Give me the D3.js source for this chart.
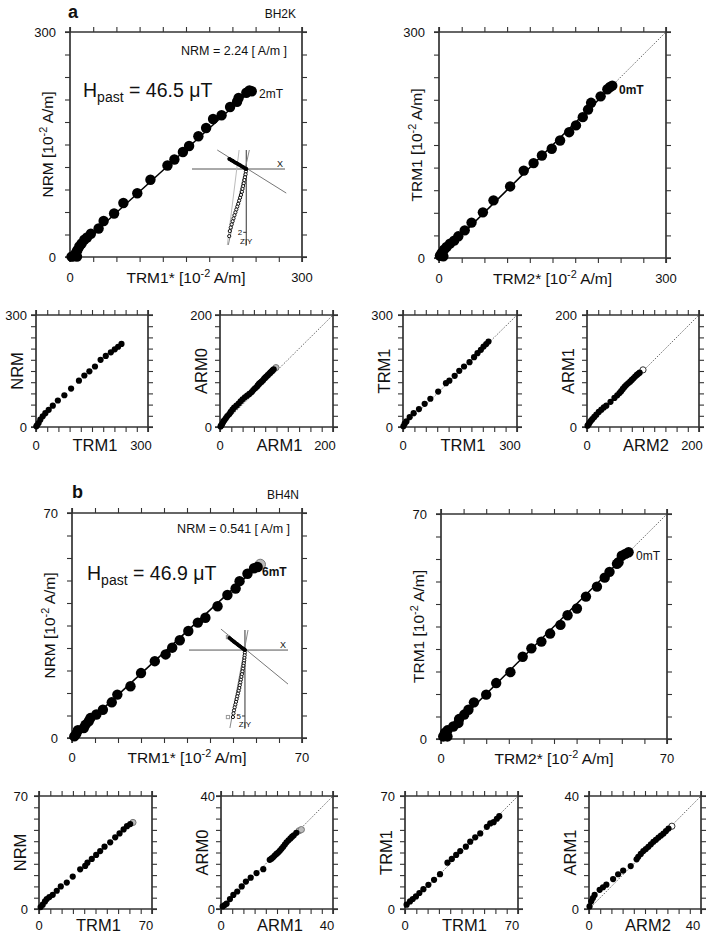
<!DOCTYPE html>
<html><head><meta charset="utf-8">
<script src="https://cdn.jsdelivr.net/npm/d3@7"></script>
<style>body{margin:0;background:#fff}svg{display:block}text{font-family:"Liberation Sans",Arial,sans-serif;fill:#111}</style>
</head><body><svg id="c" width="710" height="937"></svg>
<script>
// ---------- DATA ----------
// panel a, main left: NRM vs TRM1*
const aMainTRM1s = [2, 4, 9, 6.5, 8, 9.5, 12, 15, 18.5, 22, 27, 37, 43.5, 57, 69, 87, 104, 126, 135, 146, 154, 166, 176, 185, 196, 207, 216, 218, 228, 232, 235];
const aMainNRM   = [0.5, 1, 0.5, 3, 6, 9, 14, 18, 23, 26, 31, 38, 48, 58, 72, 85, 103, 122, 130, 140, 148, 161, 172, 184, 189, 200, 207, 212, 219, 222, 221];
const aMainFit = [[0, 3], [236, 224]];
// panel a, main right: TRM1 vs TRM2*
const aRightTRM2s = [1.3, 3.5, 5.7, 6.6, 10, 14.5, 20, 25.5, 34, 43, 58, 72, 94, 112, 125, 136, 149, 160, 172, 181, 190, 197, 201, 213.6, 222.5, 226, 229];
const aRightTRM1  = [3, 6.6, 2.2, 11, 14.6, 19, 23, 28.8, 36.7, 47, 60.6, 76.5, 95, 116, 126, 136, 145, 156, 167, 176, 187, 197, 206, 214.6, 224, 227, 228.8];
const aRightFit = [[1, 2], [230, 229]];
// panel a, small plots
const a1TRM1 = [1, 2.7, 7, 11.5, 18, 25, 34, 45, 58.5, 76, 94, 115, 129.5, 143, 158, 173, 187, 200.5, 211, 220, 229];
const a1NRM  = [1.8, 4.5, 10.7, 19.6, 28.5, 37, 46, 57, 71, 85, 103, 124, 138, 149, 162, 180, 190.5, 200, 208, 215, 222.6];
const a2ARM1 = [1, 2, 3, 4.5, 6, 8, 10.6, 13, 16.5, 19, 22, 25, 29, 33, 36.5, 40, 44, 48, 52, 56, 59, 62, 65, 67, 69, 71, 73.5, 76, 78, 80, 82, 84.5, 87, 89, 91, 93, 95];
const a2ARM0 = [1, 2.5, 4, 6.5, 10, 12.5, 16, 19.5, 23, 27, 31, 34.5, 38, 42, 46, 49.5, 53, 56, 59, 62.5, 66, 69, 72, 74.5, 77, 79, 81, 83.5, 86, 88, 90, 92.5, 95, 97, 99, 101, 103];
const a2Grey = [[99, 106]];
const a3TRM1x = [1, 4.4, 9, 17.6, 28, 42, 57, 72, 92.6, 113, 122, 136, 148, 160.6, 175, 187, 196, 205, 212, 219, 225];
const a3TRM1y = [2, 9, 15, 26.7, 37, 48, 62, 75.7, 95, 117.5, 124, 137, 150.5, 162, 173.6, 187, 197.7, 206.6, 215.5, 222, 229];
const a4ARM2 = [1, 3, 4.8, 7, 9.5, 13, 16.7, 21, 25.6, 30, 34.5, 42, 49, 54, 58, 61, 64, 67, 70, 73.5, 77, 80, 83, 86, 89, 91.5, 94];
const a4ARM1 = [2.4, 5, 8, 11, 14, 18, 22, 27, 31, 35, 38, 45, 52, 56.5, 60.5, 64, 68, 71.5, 75, 78, 81, 84, 87, 90, 93, 95, 97];
const a4Open = [[100, 102]];
// panel b, main left
const bMainTRM1s = [0.7, 1.3, 1.8, 3.6, 4.1, 5.1, 5.6, 7.4, 9.4, 12.1, 13.8, 17.8, 21, 25.2, 28.5, 30.5, 32.8, 35.4, 38.3, 40.6, 44.3, 47.3, 49.8, 51, 53.4, 55.4, 56.5];
const bMainNRM   = [0.5, 1.3, 2.4, 3.1, 4.1, 5.2, 6.2, 7.3, 8.8, 11.1, 13.5, 16.1, 20.2, 23.9, 26, 28.1, 30.4, 33.3, 35.9, 37.4, 41, 44.5, 46.5, 48.8, 51.1, 52.8, 53.2];
const bMainGrey = [[57.3, 54]];
const bMainFit = [[0.3, 0.5], [56, 53]];
// panel b, main right
const bRightTRM2s = [0.7, 2, 1.2, 2, 3.8, 5.4, 5.6, 7.2, 8.5, 10.2, 14, 17.1, 21.5, 25.3, 28, 31.1, 33.8, 37, 39.2, 42.1, 44.9, 48.3, 50.7, 52.2, 54.5, 55, 56, 57.1, 58.1];
const bRightTRM1  = [0.8, 0.8, 1.9, 2.7, 3.9, 5, 6.2, 7.6, 9.1, 11.4, 13.8, 17.4, 20.8, 25.6, 28.2, 30.3, 32.8, 35.5, 38.5, 40.6, 44.3, 47.4, 50.2, 52, 54.5, 55, 57, 57.6, 58.1];
const bRightFit = [[0.5, 0.5], [58, 58]];
// panel b, small plots
const b1TRM1 = [1, 2.3, 3.7, 4.8, 6.4, 8.5, 11, 13.5, 17.2, 20.9, 25.5, 28.6, 30, 32.7, 35.4, 37.9, 40.6, 44.1, 47.2, 49.9, 52.4, 54.5, 56.5];
const b1NRM  = [1.2, 2.7, 4.7, 6.2, 7.4, 8.8, 11.3, 14, 16.4, 20.1, 24.6, 26.7, 28.7, 31, 33.5, 35.9, 38.6, 41.3, 44.4, 46.8, 49.3, 51.3, 52.6];
const b1Grey = [[58.2, 53.6]];
const b2ARM1 = [0.6, 1.3, 2, 3.2, 4.4, 5.8, 7.4, 8.9, 10.6, 12.7, 15.1, 17.4, 18, 18.6, 19.2, 19.8, 20.4, 21, 21.6, 22.2, 22.8, 23.4, 24.1, 24.8, 25.4, 26, 26.9];
const b2ARM0 = [0.9, 1.4, 1.9, 3.5, 5, 6.2, 8, 9.7, 11.1, 12.7, 14.1, 17.4, 17.8, 18.3, 18.9, 19.5, 20, 20.6, 21.3, 22, 22.8, 23.6, 24.3, 25, 25.6, 26.1, 27];
const b2Grey = [[27.9, 27.7], [28.7, 28.1]];
const b3TRM1x = [1, 3.1, 4.8, 6.8, 8.9, 11.4, 14.5, 18, 21.7, 26.3, 29, 31.7, 34.2, 37.7, 40.4, 43.5, 46.6, 50.7, 52.8, 54.9, 56.9, 58.4];
const b3TRM1y = [2.7, 4.7, 6.2, 7.8, 9.9, 12.3, 15, 18.1, 21.6, 28.7, 31, 33.5, 35.9, 38.6, 41.7, 44.4, 46.8, 50.9, 53, 53.8, 55.9, 57.5];
const b4ARM2 = [0.2, 0.8, 1.4, 2, 3.8, 5, 6.2, 8.6, 10.4, 12.2, 14.9, 17, 17.6, 18.5, 19.4, 20.3, 21.2, 22.1, 23, 23.9, 24.8, 25.7, 26.6, 27.5, 28.4];
const b4ARM1 = [0.9, 2.7, 3.9, 5, 6.8, 7.7, 8.6, 10.6, 12.3, 13.6, 15.2, 17.6, 18.5, 19.5, 20.5, 21.2, 22, 22.9, 23.8, 24.5, 25.3, 26, 26.7, 27.6, 28.5];
const b4Open = [[29.6, 29.3]];
// Zijderveld insets (horizontal projection: X,Y ; vertical projection: X,Z)
const zaHX = [0, -0.02, -0.05, -0.08, -0.11, -0.14, -0.17, -0.2, -0.23, -0.26, -0.29, -0.32, -0.35, -0.38, -0.41, -0.44, -0.47, -0.5, -0.53, -0.55];
const zaHY = [0, -0.01, -0.03, -0.05, -0.07, -0.08, -0.1, -0.12, -0.14, -0.15, -0.17, -0.19, -0.2, -0.22, -0.24, -0.26, -0.27, -0.29, -0.31, -0.32];
const zaVX = [0, -0.01, -0.02, -0.04, -0.06, -0.08, -0.1, -0.12, -0.14, -0.17, -0.2, -0.23, -0.26, -0.29, -0.32, -0.35, -0.38, -0.41, -0.44, -0.47, -0.5, -0.53, -0.55];
const zaVZ = [0, 0.08, 0.17, 0.26, 0.35, 0.45, 0.54, 0.63, 0.72, 0.82, 0.91, 1.0, 1.1, 1.19, 1.28, 1.37, 1.46, 1.56, 1.65, 1.75, 1.85, 1.96, 2.12];
const zaLines = [[[-0.935, -0.6], [1.29, 0.76], "#777"], [[-0.23, -0.6], [-0.61, 2.4], "#bbb"], [[0.1, -0.6], [-0.58, 2.4], "#888"]];
const zbHX = [0, -0.05, -0.1, -0.16, -0.22, -0.28, -0.34, -0.41, -0.48, -0.55, -0.62, -0.7, -0.78, -0.86, -0.94, -1.02, -1.1, -1.18];
const zbHY = [0, -0.04, -0.08, -0.12, -0.17, -0.21, -0.26, -0.31, -0.36, -0.42, -0.47, -0.53, -0.59, -0.65, -0.72, -0.78, -0.85, -0.92];
const zbHGrey = [[-1.29, -0.98]];
const zbVX = [0, -0.01, -0.02, -0.04, -0.06, -0.09, -0.12, -0.15, -0.19, -0.23, -0.27, -0.31, -0.35, -0.39, -0.43, -0.48, -0.53, -0.58, -0.63, -0.68, -0.73, -0.78, -0.83, -0.87, -0.91];
const zbVZ = [0, 0.2, 0.4, 0.6, 0.8, 1.0, 1.2, 1.41, 1.62, 1.83, 2.04, 2.25, 2.46, 2.67, 2.88, 3.09, 3.3, 3.51, 3.72, 3.93, 4.14, 4.35, 4.57, 4.8, 5.08];
const zbVGrey = [[-1.29, 5.08]];
const zbLines = [[[-1.82, -1.59], [3.26, 2.58], "#777"], [[0.23, -1.52], [-1.14, 5.91], "#888"]];
// tick labels
const ticksA = ["0", "300"], ticksA2 = ["0", "200"], ticksB = ["0", "70"], ticksB2 = ["0", "40"];

// ---------- DRAW ----------
const svg = d3.select("#c");
const FRAME = "#333";
const zip = (a, b) => a.map((v, i) => [v, b[i]]);

function superTitle(g, base, size) {
  const t = g.append("text").attr("font-size", size);
  t.append("tspan").text(base + " [10");
  t.append("tspan").attr("dy", -size * 0.38).attr("font-size", size * 0.7).text("-2");
  t.append("tspan").attr("dy", size * 0.38).text(" A/m]");
  return t;
}

function panel(o) {
  const x = d3.scaleLinear().domain([0, o.max]).range([o.x0, o.x1]);
  const y = d3.scaleLinear().domain([0, o.max]).range([o.y1, o.y0]);
  const g = svg.append("g");
  const tv = d3.range(0, 11).map(i => i * o.max / 10);
  const tl = 5;
  const ax = [
    [d3.axisBottom(x), `translate(0,${o.y1})`],
    [d3.axisTop(x), `translate(0,${o.y0})`],
    [d3.axisLeft(y), `translate(${o.x0},0)`],
    [d3.axisRight(y), `translate(${o.x1},0)`]
  ];
  ax.forEach(([a, tr]) => {
    const ag = g.append("g").attr("transform", tr)
      .call(a.tickValues(tv).tickSize(tl).tickFormat(""));
    ag.select(".domain").remove();
    ag.selectAll(".tick line").attr("stroke", "#333").attr("stroke-width", 1.1);
  });
  const e = 5;
  const fr = g.append("g").attr("stroke", FRAME).attr("stroke-width", 1.7);
  fr.append("line").attr("x1", o.x0 - e).attr("x2", o.x1 + e).attr("y1", o.y0).attr("y2", o.y0);
  fr.append("line").attr("x1", o.x0 - e).attr("x2", o.x1 + e).attr("y1", o.y1).attr("y2", o.y1);
  fr.append("line").attr("y1", o.y0 - e).attr("y2", o.y1 + e).attr("x1", o.x0).attr("x2", o.x0);
  fr.append("line").attr("y1", o.y0 - e).attr("y2", o.y1 + e).attr("x1", o.x1).attr("x2", o.x1);
  const fs = 13;
  g.append("text").attr("x", o.x0 - o.gapY).attr("y", y(0)).attr("dy", "0.35em")
    .attr("text-anchor", "end").attr("font-size", fs).text(o.labels[0]);
  g.append("text").attr("x", o.x0 - o.gapY).attr("y", y(o.max)).attr("dy", "0.35em")
    .attr("text-anchor", "end").attr("font-size", fs).text(o.labels[1]);
  g.append("text").attr("x", x(0)).attr("y", o.y1 + o.gapX).attr("text-anchor", "middle")
    .attr("font-size", fs).text(o.labels[0]);
  g.append("text").attr("x", x(o.max) + (o.maxShift || 0)).attr("y", o.y1 + o.gapX)
    .attr("text-anchor", "middle").attr("font-size", fs).text(o.labels[1]);
  const cx = (o.x0 + o.x1) / 2, cy = (o.y0 + o.y1) / 2;
  if (o.main) {
    superTitle(g, o.xTitle, 15.5).attr("x", cx).attr("y", o.y1 + o.gapX + 1)
      .attr("text-anchor", "middle");
    superTitle(g, o.yTitle, 15.5).attr("text-anchor", "middle")
      .attr("transform", `translate(${o.x0 - 17},${cy}) rotate(-90)`);
  } else {
    g.append("text").attr("x", cx + 3).attr("y", o.y1 + o.gapX + 1).attr("text-anchor", "middle")
      .attr("font-size", 16.5).text(o.xTitle);
    g.append("text").attr("text-anchor", "middle").attr("font-size", 16.5)
      .attr("transform", `translate(${o.x0 - 13},${cy}) rotate(-90)`).text(o.yTitle);
  }
  if (o.diag) {
    g.append("line").attr("x1", x(0)).attr("y1", y(0)).attr("x2", x(o.max)).attr("y2", y(o.max))
      .attr("stroke", "#444").attr("stroke-width", 0.8).attr("stroke-dasharray", "1.5,1.5");
  }
  if (o.fit) {
    g.append("line").attr("x1", x(o.fit[0][0])).attr("y1", y(o.fit[0][1]))
      .attr("x2", x(o.fit[1][0])).attr("y2", y(o.fit[1][1]))
      .attr("stroke", "#000").attr("stroke-width", 1.5);
  }
  const r = o.r;
  if (o.grey) g.selectAll(null).data(o.grey).enter().append("circle")
    .attr("cx", d => x(d[0])).attr("cy", d => y(d[1])).attr("r", r)
    .attr("fill", "#bbb").attr("stroke", "#777").attr("stroke-width", 1);
  if (o.open) g.selectAll(null).data(o.open).enter().append("circle")
    .attr("cx", d => x(d[0])).attr("cy", d => y(d[1])).attr("r", r)
    .attr("fill", "#fff").attr("stroke", "#333").attr("stroke-width", 1);
  g.selectAll(null).data(o.pts).enter().append("circle")
    .attr("cx", d => x(d[0])).attr("cy", d => y(d[1])).attr("r", r).attr("fill", "#000");
  return { x, y, g };
}

function inset(o) {
  const x = d3.scaleLinear().domain(o.xd).range(o.xr);
  const y = d3.scaleLinear().domain(o.yd).range(o.yr);
  const g = svg.append("g");
  const x0 = x(0), y0 = y(0);
  g.append("line").attr("x1", o.xr[0]).attr("x2", o.xr[1]).attr("y1", y0).attr("y2", y0)
    .attr("stroke", "#555").attr("stroke-width", 1);
  g.append("line").attr("x1", x0).attr("x2", x0).attr("y1", o.yr[0]).attr("y2", o.yr[1])
    .attr("stroke", "#333").attr("stroke-width", 1);
  o.lines.forEach(l => g.append("line").attr("x1", x(l[0][0])).attr("y1", y(l[0][1]))
    .attr("x2", x(l[1][0])).attr("y2", y(l[1][1])).attr("stroke", l[2]).attr("stroke-width", 1));
  g.append("line").attr("x1", x0 - 3).attr("x2", x0).attr("y1", y(o.tick)).attr("y2", y(o.tick))
    .attr("stroke", "#333");
  g.append("text").attr("x", x0 - 4).attr("y", y(o.tick)).attr("dy", "0.35em").attr("text-anchor", "end")
    .attr("font-size", 8).text(String(o.tick));
  g.append("text").attr("x", x0).attr("y", o.yr[1] - 1).attr("text-anchor", "middle")
    .attr("font-size", 8).text("Z|Y");
  g.append("text").attr("x", o.xr[1] - 2).attr("y", y0 - 2).attr("text-anchor", "end")
    .attr("font-size", 9).text("X");
  g.selectAll(null).data(o.v).enter().append("circle")
    .attr("cx", d => x(d[0])).attr("cy", d => y(d[1])).attr("r", 1.6)
    .attr("fill", "#fff").attr("stroke", "#111").attr("stroke-width", 1);
  (o.vGrey || []).forEach(d => g.append("rect").attr("x", x(d[0]) - 1.6).attr("y", y(d[1]) - 1.6)
    .attr("width", 3.2).attr("height", 3.2).attr("fill", "#fff").attr("stroke", "#999"));
  (o.hGrey || []).forEach(d => g.append("rect").attr("x", x(d[0]) - 1.6).attr("y", y(d[1]) - 1.6)
    .attr("width", 3.2).attr("height", 3.2).attr("fill", "#aaa").attr("stroke", "#999"));
  g.selectAll(null).data(o.h).enter().append("circle")
    .attr("cx", d => x(d[0])).attr("cy", d => y(d[1])).attr("r", 1.9).attr("fill", "#000");
}

// ---- Panel a ----
panel({ x0: 70, x1: 302, y0: 32, y1: 257, max: 300, labels: ticksA, gapY: 14, gapX: 25,
  main: true, xTitle: "TRM1*", yTitle: "NRM", pts: zip(aMainTRM1s, aMainNRM), fit: aMainFit, r: 5.2 });
panel({ x0: 439, x1: 666, y0: 32, y1: 258, max: 300, labels: ticksA, gapY: 14, gapX: 25,
  main: true, xTitle: "TRM2*", yTitle: "TRM1", pts: zip(aRightTRM2s, aRightTRM1), fit: aRightFit, diag: true, r: 5.2 });
panel({ x0: 36, x1: 148, y0: 315, y1: 427, max: 300, labels: ticksA, gapY: 9, gapX: 23, maxShift: -7,
  xTitle: "TRM1", yTitle: "NRM", pts: zip(a1TRM1, a1NRM), r: 3.1 });
panel({ x0: 220, x1: 333, y0: 315, y1: 427, max: 200, labels: ticksA2, gapY: 8, gapX: 23, maxShift: -8,
  xTitle: "ARM1", yTitle: "ARM0", pts: zip(a2ARM1, a2ARM0), grey: a2Grey, diag: true, r: 3.1 });
panel({ x0: 403, x1: 517, y0: 315, y1: 427, max: 300, labels: ticksA, gapY: 10, gapX: 23, maxShift: -7,
  xTitle: "TRM1", yTitle: "TRM1", pts: zip(a3TRM1x, a3TRM1y), diag: true, r: 3.1 });
panel({ x0: 587, x1: 699, y0: 315, y1: 427, max: 200, labels: ticksA2, gapY: 10, gapX: 23, maxShift: -7,
  xTitle: "ARM2", yTitle: "ARM1", pts: zip(a4ARM2, a4ARM1), open: a4Open, diag: true, r: 3.1 });

// ---- Panel b ----
panel({ x0: 72, x1: 302, y0: 513, y1: 738, max: 70, labels: ticksB, gapY: 14, gapX: 24,
  main: true, xTitle: "TRM1*", yTitle: "NRM", pts: zip(bMainTRM1s, bMainNRM), grey: bMainGrey, fit: bMainFit, r: 5.2 });
panel({ x0: 441, x1: 667, y0: 514, y1: 739, max: 70, labels: ticksB, gapY: 14, gapX: 24,
  main: true, xTitle: "TRM2*", yTitle: "TRM1", pts: zip(bRightTRM2s, bRightTRM1), fit: bRightFit, diag: true, r: 5.2 });
panel({ x0: 39, x1: 152, y0: 796, y1: 909, max: 70, labels: ticksB, gapY: 11, gapX: 21, maxShift: -6,
  xTitle: "TRM1", yTitle: "NRM", pts: zip(b1TRM1, b1NRM), grey: b1Grey, r: 3.1 });
panel({ x0: 221, x1: 333, y0: 796, y1: 909, max: 40, labels: ticksB2, gapY: 6, gapX: 21, maxShift: -6,
  xTitle: "ARM1", yTitle: "ARM0", pts: zip(b2ARM1, b2ARM0), grey: b2Grey, diag: true, r: 3.1 });
panel({ x0: 405, x1: 518, y0: 796, y1: 909, max: 70, labels: ticksB, gapY: 10, gapX: 21, maxShift: -6,
  xTitle: "TRM1", yTitle: "TRM1", pts: zip(b3TRM1x, b3TRM1y), diag: true, r: 3.1 });
panel({ x0: 589, x1: 701, y0: 796, y1: 909, max: 40, labels: ticksB2, gapY: 10, gapX: 21, maxShift: -8,
  xTitle: "ARM2", yTitle: "ARM1", pts: zip(b4ARM2, b4ARM1), open: b4Open, diag: true, r: 3.1 });

// ---- insets ----
inset({ xd: [-1.75, 1.25], xr: [192, 285], yd: [-0.6, 2.4], yr: [150, 245], tick: 2,
  h: zip(zaHX, zaHY), v: zip(zaVX, zaVZ), lines: zaLines });
inset({ xd: [-4.24, 3.26], xr: [189, 288], yd: [-1.52, 5.91], yr: [630, 728], tick: 5,
  h: zip(zbHX, zbHY), v: zip(zbVX, zbVZ), lines: zbLines, hGrey: zbHGrey, vGrey: zbVGrey });

// ---- annotations ----
function hpast(xp, yp, val) {
  const t = svg.append("text").attr("x", xp).attr("y", yp).attr("font-size", 19.5);
  t.append("tspan").text("H");
  t.append("tspan").attr("dy", 5).attr("font-size", 14).text("past");
  t.append("tspan").attr("dy", -5).text(" = " + val + " μT");
}
hpast(83, 97, "46.5");
hpast(87, 580, "46.9");
svg.append("text").attr("x", 287).attr("y", 55).attr("text-anchor", "end").attr("font-size", 12.5).text("NRM = 2.24 [ A/m ]");
svg.append("text").attr("x", 290).attr("y", 533).attr("text-anchor", "end").attr("font-size", 12.5).text("NRM = 0.541 [ A/m ]");
svg.append("text").attr("x", 259).attr("y", 98).attr("font-size", 12).text("2mT");
svg.append("text").attr("x", 619).attr("y", 94).attr("font-size", 12).attr("font-weight", "bold").text("0mT");
svg.append("text").attr("x", 262).attr("y", 576).attr("font-size", 12).attr("font-weight", "bold").text("6mT");
svg.append("text").attr("x", 636).attr("y", 560).attr("font-size", 12).text("0mT");
svg.append("text").attr("x", 68).attr("y", 18).attr("font-size", 18).attr("font-weight", "bold").text("a");
svg.append("text").attr("x", 296).attr("y", 18).attr("text-anchor", "end").attr("font-size", 12).text("BH2K");
svg.append("text").attr("x", 72).attr("y", 498).attr("font-size", 18).attr("font-weight", "bold").text("b");
svg.append("text").attr("x", 299).attr("y", 499).attr("text-anchor", "end").attr("font-size", 12).text("BH4N");
</script></body></html>
